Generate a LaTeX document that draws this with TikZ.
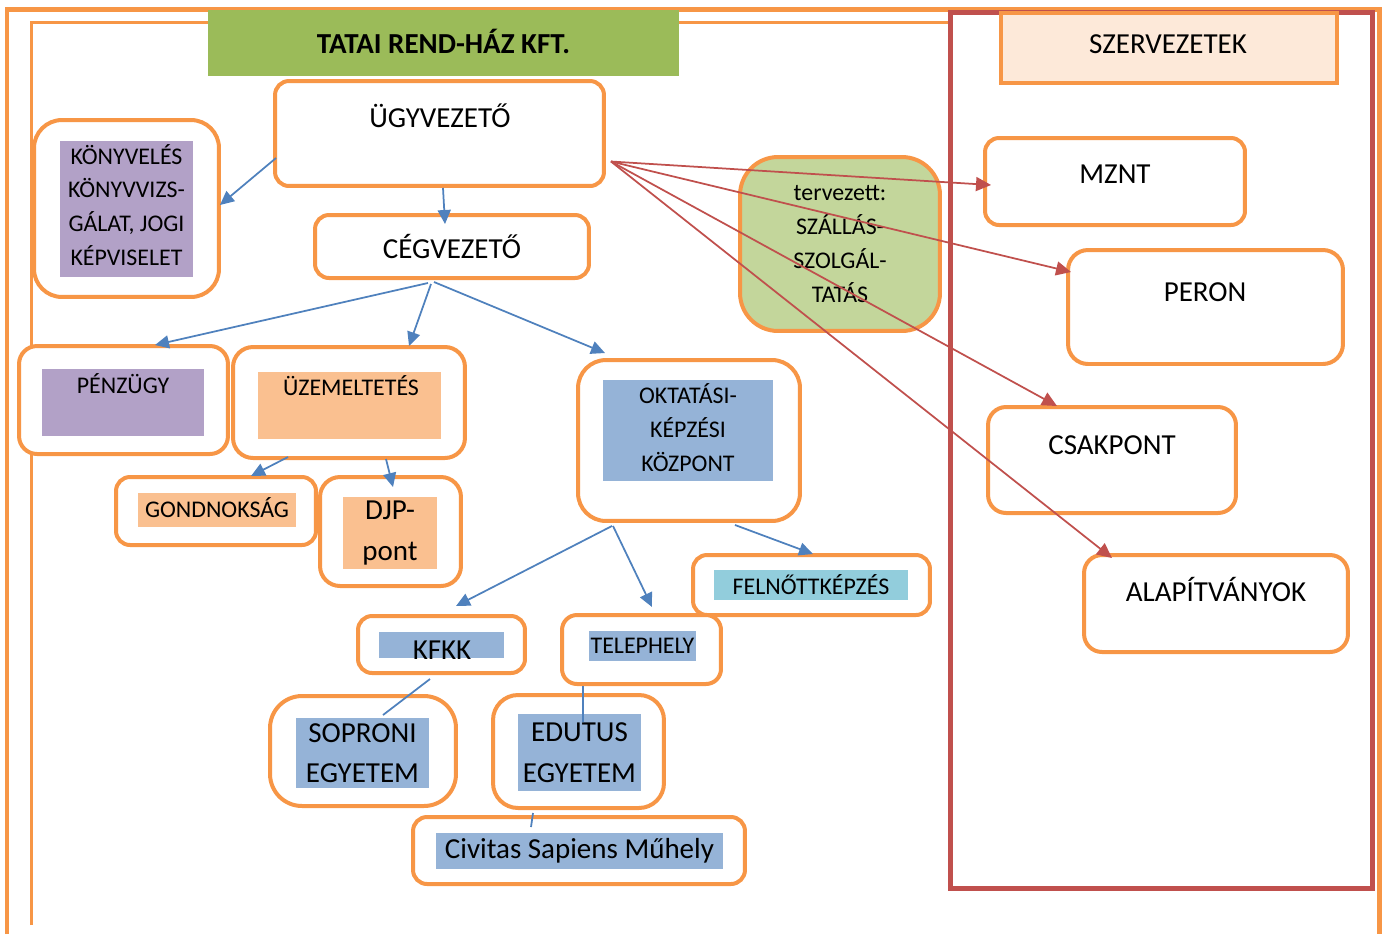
\documentclass[tikz,border=0pt]{standalone}
\usepackage{fontspec}
\setmainfont{Carlito}
\usetikzlibrary{arrows.meta,calc}

\definecolor{orng}{HTML}{F79646}
\definecolor{bluel}{HTML}{4F81BD}
\definecolor{redl}{HTML}{C0504D}
\definecolor{greent}{HTML}{9BBB59}
\definecolor{greenl}{HTML}{C3D69B}
\definecolor{lila}{HTML}{B2A1C7}
\definecolor{peach}{HTML}{FAC090}
\definecolor{bluef}{HTML}{95B3D7}
\definecolor{aqua}{HTML}{92CDDC}
\definecolor{rose}{HTML}{FDE9D9}

\newcommand{\sizeL}{\fontsize{16.5}{23}\selectfont}
\newcommand{\sizeS}{\fontsize{13.6}{19.3}\selectfont}

\begin{document}
\begin{tikzpicture}[x=0.02cm, y=-0.02cm]
%define

\tikzstyle{unit_w} = [rectangle, rounded corners=0.28cm, draw=orng, line width=0.08cm, fill=white, inner sep=0pt, text centered, font=\sizeL]
\tikzstyle{unit_in} = [rectangle, inner sep=0pt, align=center, font=\sizeS]
\tikzstyle{label_s} = [inner sep=0pt, font=\sizeS]
\tikzstyle{label_l} = [inner sep=0pt, font=\sizeL]
\tikzstyle{arrow} = [-{Triangle[length=0.28cm, width=0.26cm]}, draw=bluel, fill=bluel, line width=0.035cm]
\tikzstyle{arrowr} = [-{Triangle[length=0.3cm, width=0.28cm]}, draw=redl, fill=redl, line width=0.035cm]
\tikzstyle{link} = [draw=bluel, line width=0.035cm]

\useasboundingbox (0,0) rectangle (1385,934);

%frame
\draw[orng, line width=0.1cm](7,934)--(7,9)--(1379,9)--(1379,934);
\draw[orng, line width=0.06cm](31,925)--(31,22)--(950,22);
\draw[redl, line width=0.1cm](950,12)rectangle(1372,888);

%title
\node[fill=greent, minimum width=9.42cm, minimum height=1.32cm, font=\sizeL\bfseries](state_Tatai) at (443.5,43){};
\node[label_l, font=\sizeL\bfseries](txt_Tatai) at (443.5,41){TATAI REND-HÁZ KFT.};

%top
\node[unit_w, minimum width=6.58cm, minimum height=2.1cm](unit_Ugy) at (439.5,133.5){};
\node[label_l](txt_Ugy) at (440,116){ÜGYVEZETŐ};
\node[unit_w, rounded corners=0.56cm, minimum width=3.7cm, minimum height=3.54cm](unit_Konyv) at (126.5,208.5){};
\node[unit_in, fill=lila, minimum width=2.66cm, minimum height=2.72cm](in_Konyv) at (126.5,209){};
\node[label_s, align=center](txt_Konyv) at (126.5,205){KÖNYVELÉS\\KÖNYVVIZS-\\GÁLAT, JOGI\\KÉPVISELET};
\node[unit_w, minimum width=5.48cm, minimum height=1.26cm](unit_Ceg) at (452,246.5){CÉGVEZETŐ};
\node[unit_w, fill=greenl, rounded corners=0.76cm, minimum width=4cm, minimum height=3.48cm, font=\sizeS, align=center](unit_Terv) at (840,244){tervezett:\\SZÁLLÁS-\\SZOLGÁL-\\TATÁS};

%szervezetek
\node[unit_w, sharp corners, fill=rose, minimum width=6.72cm, minimum height=1.4cm](unit_Szerv) at (1169,48){};
\node[label_l](txt_Szerv) at (1168,44){SZERVEZETEK};
\node[unit_w, minimum width=5.2cm, minimum height=1.74cm](unit_Mznt) at (1115,181.5){};
\node[label_l](txt_Mznt) at (1115,174){MZNT};
\node[unit_w, rounded corners=0.4cm, minimum width=5.5cm, minimum height=2.28cm](unit_Peron) at (1205.5,307){};
\node[label_l](txt_Peron) at (1205,292){PERON};
\node[unit_w, rounded corners=0.36cm, minimum width=4.96cm, minimum height=2.12cm](unit_Csak) at (1112,460){};
\node[label_l](txt_Csak) at (1112,445){CSAKPONT};
\node[unit_w, rounded corners=0.36cm, minimum width=5.28cm, minimum height=1.94cm](unit_Alap) at (1216,603.5){};
\node[label_l](txt_Alap) at (1216,589){ALAPÍTVÁNYOK};

%middle
\node[unit_w, rounded corners=0.36cm, minimum width=4.18cm, minimum height=2.16cm](unit_Penz) at (123.5,400){};
\node[unit_in, fill=lila, minimum width=3.24cm, minimum height=1.34cm](in_Penz) at (123,402.5){};
\node[label_s](txt_Penz) at (123,384){PÉNZÜGY};
\node[unit_w, rounded corners=0.4cm, minimum width=4.64cm, minimum height=2.22cm](unit_Uzem) at (349,402.5){};
\node[unit_in, fill=peach, minimum width=3.66cm, minimum height=1.34cm](in_Uzem) at (349.5,405.5){};
\node[label_s](txt_Uzem) at (351,386){ÜZEMELTETÉS};
\node[unit_w, minimum width=4cm, minimum height=1.36cm](unit_Gond) at (216,511){};
\node[unit_in, fill=peach, minimum width=3.16cm, minimum height=0.68cm](in_Gond) at (217,510){};
\node[label_s](txt_Gond) at (217,508){GONDNOKSÁG};
\node[unit_w, rounded corners=0.4cm, minimum width=2.82cm, minimum height=2.18cm](unit_Djp) at (390.5,531.5){};
\node[unit_in, fill=peach, font=\sizeL, minimum width=1.88cm, minimum height=1.44cm](in_Djp) at (390,533){DJP-\\pont};
\node[unit_w, rounded corners=0.56cm, minimum width=4.44cm, minimum height=3.22cm](unit_Okt) at (689,440.5){};
\node[unit_in, fill=bluef, minimum width=3.4cm, minimum height=2.02cm](in_Okt) at (688,430.5){};
\node[label_s, align=center](txt_Okt) at (688,428){OKTATÁSI-\\KÉPZÉSI\\KÖZPONT};
\node[unit_w, minimum width=4.74cm, minimum height=1.2cm](unit_Feln) at (811.5,585){};
\node[unit_in, fill=aqua, minimum width=3.88cm, minimum height=0.6cm](in_Feln) at (811,585){FELNŐTTKÉPZÉS};

%bottom
\node[unit_w, minimum width=3.34cm, minimum height=1.14cm](unit_Kfkk) at (441.5,644.5){};
\node[unit_in, fill=bluef, minimum width=2.5cm, minimum height=0.52cm](in_Kfkk) at (441.5,645){};
\node[label_l](txt_Kfkk) at (442,650){KFKK};
\node[unit_w, rounded corners=0.3cm, minimum width=3.18cm, minimum height=1.38cm](unit_Tele) at (641.5,649.5){};
\node[unit_in, fill=bluef, minimum width=2.14cm, minimum height=0.6cm](in_Tele) at (642.5,646){TELEPHELY};
\node[unit_w, rounded corners=0.64cm, minimum width=3.72cm, minimum height=2.2cm](unit_Sopr) at (363,751){};
\node[unit_in, fill=bluef, font=\sizeL, minimum width=2.66cm, minimum height=1.4cm](in_Sopr) at (362.5,753){SOPRONI\\EGYETEM};
\node[unit_w, rounded corners=0.5cm, minimum width=3.42cm, minimum height=2.26cm](unit_Edut) at (578.5,751.5){};
\node[unit_in, fill=bluef, font=\sizeL, minimum width=2.46cm, minimum height=1.54cm](in_Edut) at (579.5,752.5){EDUTUS\\EGYETEM};
\node[unit_w, minimum width=6.64cm, minimum height=1.34cm](unit_Civ) at (579,850.5){};
\node[unit_in, fill=bluef, font=\sizeL, minimum width=5.74cm, minimum height=0.72cm](in_Civ) at (579.5,851){Civitas Sapiens Műhely};

%line

\draw[arrow]($(unit_Ugy.west)+(3,24.5)$)--($(unit_Konyv.east)+(-1,-3.5)$); %Ugy->Konyv
\draw[arrow]($(unit_Ugy.south)+(3.5,0)$)--($(unit_Ceg.north)+(-7,11)$); %Ugy->Ceg
\draw[arrow]($(unit_Ceg.south)+(-24,3)$)--($(unit_Penz.north)+(31.5,1)$); %Ceg->Penz
\draw[arrow]($(unit_Ceg.south)+(-21,4)$)--($(unit_Uzem.north)+(60,1)$); %Ceg->Uzem
\draw[arrow]($(unit_Ceg.south)+(-18,2)$)--($(unit_Okt.north)+(-84,-5)$); %Ceg->Okt
\draw[arrow]($(unit_Uzem.south)+(-61,-3)$)--($(unit_Gond.north)+(35,1)$); %Uzem->Gond
\draw[arrow]($(unit_Uzem.south)+(37,-1)$)--($(unit_Djp.north)+(2.5,12)$); %Uzem->Djp
\draw[arrow]($(unit_Okt.south)+(-77,3)$)--($(unit_Kfkk.north)+(14.5,-8)$); %Okt->Kfkk
\draw[arrow]($(unit_Okt.south)+(-76,3)$)--($(unit_Tele.north)+(10.5,-6)$); %Okt->Tele
\draw[arrow]($(unit_Okt.south)+(46,2)$)--($(unit_Feln.north)+(1.5,1)$); %Okt->Feln
\draw[link]($(unit_Kfkk.south)+(-11.5,4)$)--($(unit_Sopr.north)+(20,21)$); %Kfkk-Sopr
\draw[link]($(unit_Tele.south)+(-58.5,0)$)--($(unit_Edut.north)+(4.5,29)$); %Tele-Edut
\draw[link]($(unit_Edut.south)+(-45.5,3)$)--($(unit_Civ.north)+(-48,12)$); %Edut-Civ

\coordinate (ugy_r) at ($(unit_Ugy.east)+(5,28)$);
\draw[arrowr](ugy_r)--($(unit_Mznt.west)+(8,3.5)$); %Ugy->Mznt
\draw[arrowr](ugy_r)--($(unit_Peron.west)+(5,-35)$); %Ugy->Peron
\draw[arrowr](ugy_r)--($(unit_Csak.north)+(-55,1)$); %Ugy->Csak
\draw[arrowr](ugy_r)--($(unit_Alap.north)+(-104,5)$); %Ugy->Alap

\end{tikzpicture}
\end{document}
